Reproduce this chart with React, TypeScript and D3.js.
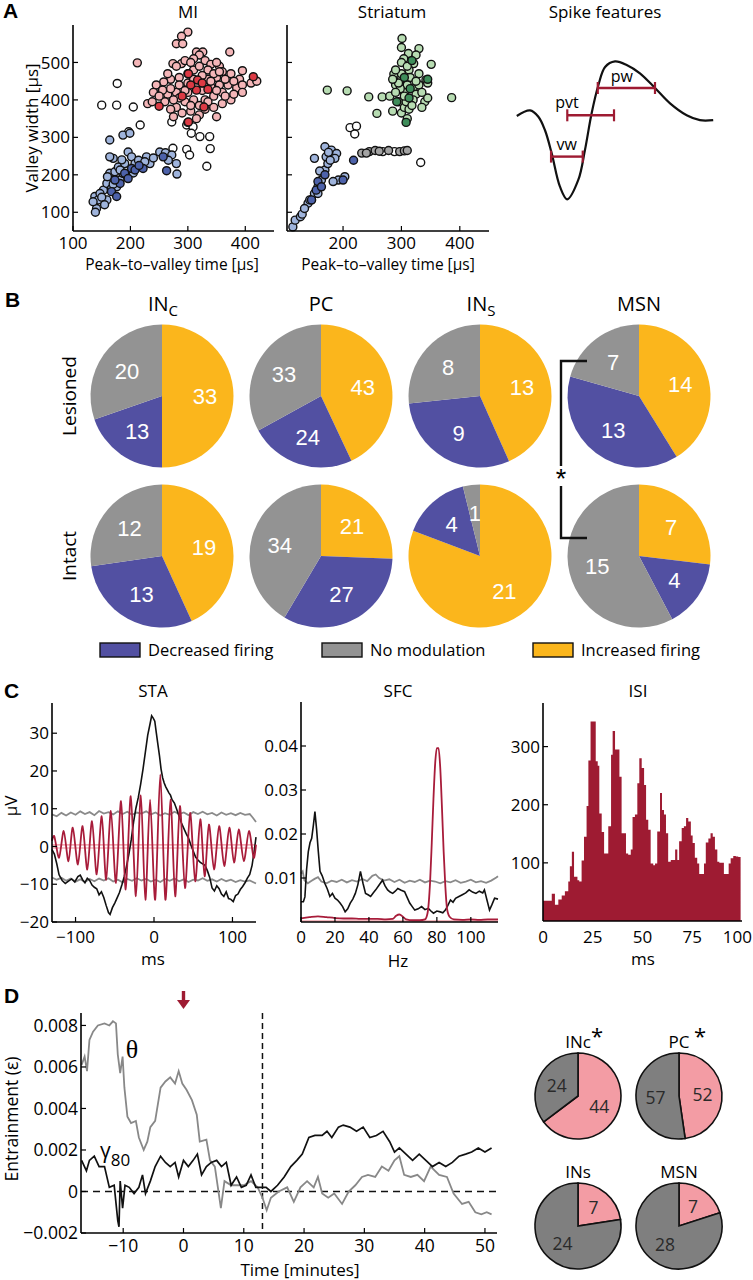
import React from "react";
import * as d3 from "d3";

const SANS = "'Open Sans', 'Noto Sans', 'DejaVu Sans', sans-serif";
const ARIAL = "'Liberation Sans', Arial, sans-serif";
const SERIF = "'Liberation Serif', 'DejaVu Serif', serif";

type P = [number, number];

// ================= Panel A data =================
const A_Y_TICKS = [100, 200, 300, 400, 500];
const MI_X_TICKS = [100, 200, 300, 400];
const ST_X_TICKS = [200, 300, 400];

const MI_NONE: P[] = [[177,444],[150,386],[176,386],[205,381],[217,333],[197,315],[272,341],[298,333],[309,328],[306,311],[321,302],[338,302],[339,270],[298,268],[274,271],[303,253],[333,223]];
const MI_BLUE_LIGHT: P[] = [[141,110],[138,142],[144,133],[153,159],[159,177],[164,204],[170,244],[173,208],[179,221],[182,186],[187,204],[190,230],[196,261],[202,248],[208,230],[214,239],[219,221],[228,248],[234,230],[159,133],[147,150],[167,163],[176,168],[182,213],[164,293],[187,306],[199,311],[164,248],[251,261],[261,259],[272,253],[280,230],[281,202],[266,239],[135,128],[139,100],[150,140],[160,195],[170,175],[185,240],[195,200],[205,205],[225,235],[240,245],[155,120]];
const MI_BLUE_DARK: P[] = [[167,155],[182,177],[190,204],[202,217],[208,213],[222,217],[263,211],[176,142],[196,190],[257,248],[173,186],[215,225]];
const MI_PINK: P[] = [[300,581],[289,570],[280,550],[291,550],[274,497],[289,497],[212,499],[373,528],[315,528],[326,528],[320,520],[310,510],[330,505],[340,495],[355,490],[360,475],[375,470],[395,478],[350,460],[335,455],[300,470],[285,460],[270,455],[258,448],[245,440],[255,425],[240,420],[265,415],[280,420],[300,445],[315,440],[325,425],[340,435],[355,440],[370,440],[385,432],[360,420],[345,410],[330,400],[310,400],[295,395],[280,380],[270,375],[290,365],[305,370],[320,360],[330,375],[345,380],[375,400],[410,445],[390,455],[420,450],[360,390],[230,390],[260,395],[300,340],[315,350],[285,405],[300,420],[238,395],[256,426],[310,480],[350,500],[265,470],[280,490],[295,505],[305,500],[320,490],[335,480],[345,470],[365,455],[380,450],[395,440],[350,425],[365,410],[380,415],[395,420],[270,430],[285,440],[295,425],[310,455],[325,465],[340,450],[355,475],[250,410],[275,400],[320,385],[335,395],[350,355],[275,355],[305,385]];
const MI_RED: P[] = [[317,453],[315,426],[301,470],[328,381],[301,341],[414,462],[250,383],[335,428],[305,440],[325,445],[290,410]];

const ST_NONE: P[] = [[212,326],[223,330],[220,309],[333,233],[268,262],[288,262]];
const ST_GRAY: P[] = [[232,258],[245,262],[255,265],[262,263],[278,265],[297,262],[305,264],[310,265],[240,258]];
const ST_BLUE_LIGHT: P[] = [[114,61],[118,79],[127,88],[130,95],[140,124],[146,133],[151,150],[157,168],[163,186],[169,213],[174,230],[171,248],[151,244],[169,275],[180,266],[189,257],[186,244],[178,239],[192,186],[203,195],[183,182],[143,133],[134,110],[157,150],[160,210],[175,260]];
const ST_BLUE_DARK: P[] = [[157,182],[154,159],[163,168],[200,186],[218,239],[146,133],[169,200]];
const ST_GREEN_LIGHT: P[] = [[301,564],[330,537],[312,524],[304,510],[321,497],[351,495],[287,469],[313,480],[342,453],[345,445],[173,426],[207,424],[244,408],[267,408],[386,406],[258,364],[285,370],[300,365],[305,380],[310,350],[295,395],[305,420],[320,430],[330,440],[290,440],[300,455],[315,460],[325,415],[340,395],[335,380],[300,470],[290,480],[320,400],[280,410],[310,440],[298,430],[330,470],[345,405],[290,420],[308,395],[313,375],[300,500],[310,490],[295,445],[325,450],[335,420],[305,410],[318,385],[285,455],[300,540],[325,520]];
const ST_GREEN_DARK: P[] = [[318,505],[345,455],[292,395],[313,405],[308,340],[315,430],[305,460]];

// Spike feature schematic (arbitrary time / amplitude units)
const SPIKE_WAVE: P[] = [[0.4,0.2],[7.1,0.28],[11.3,0.19],[14.6,0],[18,-0.33],[22.2,-0.81],[25.9,-0.99],[31.5,-0.71],[34.8,-0.29],[38.2,0.24],[41.6,0.64],[45,0.9],[50,0.98],[55.9,0.93],[62.6,0.81],[70.2,0.6],[77.8,0.38],[86.2,0.21],[92.9,0.14],[99.6,0.14]];
const SPIKE_FEATURES = [
  { name: "vw", t0: 17.7, t1: 33.7, v: -0.38, lt: 25.6, lv: -0.29 },
  { name: "pvt", t0: 25.9, t1: 49.5, v: 0.21, lt: 25.8, lv: 0.32 },
  { name: "pw", t0: 41.3, t1: 70.2, v: 0.6, lt: 53.5, lv: 0.69 },
];

// ================= Panel B data =================
const B_TYPES = [
  { main: "IN", sub: "C" },
  { main: "PC", sub: "" },
  { main: "IN", sub: "S" },
  { main: "MSN", sub: "" },
];
const B_CONDITIONS = ["Lesioned", "Intact"];
// order: increased, decreased, no modulation
const B_LESIONED = [[33, 13, 20], [43, 24, 33], [13, 9, 8], [14, 13, 7]];
const B_INTACT = [[19, 13, 12], [21, 27, 34], [21, 4, 1], [7, 4, 15]];
const B_LEGEND = ["Decreased firing", "No modulation", "Increased firing"];
const C_INC = "#fbb61c";
const C_DEC = "#5250a2";
const C_NONE = "#939393";

// ================= Panel C data =================
const STA_Y_TICKS = [-20, -10, 0, 10, 20, 30];
const STA_X_TICKS = [-100, 0, 100];
const STA_LFP: P[] = [[-130,-0.8],[-127,-2.0],[-124,-4.5],[-121,-7.5],[-117,-9.0],[-113,-9.8],[-109,-9.2],[-105,-8.6],[-101,-9.4],[-97,-8.0],[-94,-7.6],[-91,-8.8],[-88,-9.6],[-85,-8.4],[-82,-9.0],[-79,-10.2],[-76,-10.8],[-73,-11.2],[-70,-12.8],[-67,-12.0],[-64,-13.5],[-61,-15.6],[-58,-17.5],[-56,-18.0],[-53,-16.2],[-50,-15.0],[-47,-13.6],[-44,-12.2],[-41,-10.2],[-38,-8.0],[-35,-5.2],[-32,-2.0],[-29,1.8],[-26,6.5],[-23,10.2],[-20,13.0],[-17,16.5],[-14,20.5],[-11,25.0],[-8,29.5],[-5,32.5],[-3,34.6],[-1,34.0],[1,33.2],[3,30.0],[5,27.0],[7,24.0],[9,20.5],[11,18.2],[13,16.8],[15,15.8],[17,15.0],[19,14.2],[21,13.6],[23,12.4],[26,11.5],[29,9.8],[32,8.0],[35,6.2],[38,4.8],[41,3.4],[44,2.2],[47,0.4],[50,-1.2],[53,-2.8],[56,-3.6],[59,-4.2],[62,-4.6],[65,-5.0],[68,-6.4],[71,-8.2],[74,-11.0],[77,-11.8],[80,-10.4],[83,-11.2],[86,-12.6],[89,-13.2],[92,-12.0],[95,-13.8],[98,-14.0],[101,-14.6],[104,-13.0],[107,-12.6],[110,-11.4],[113,-10.6],[116,-9.6],[119,-8.4],[122,-7.4],[125,-5.0],[128,-0.8],[130,2.5]];
const STA_GAMMA: P[] = [[-130,1.5],[-127,2.7],[-121,-3.0],[-115,4.1],[-109,-3.9],[-103.5,5.0],[-97,-4.8],[-91,5.4],[-85,-6.1],[-79,6.7],[-73,-7.4],[-66.6,8.0],[-61,-8.8],[-54.9,9.4],[-48.5,-9.6],[-42,12.0],[-36,-11.4],[-29.6,13.3],[-23,-13.2],[-16.8,13.5],[-11,-14.1],[-5,12.4],[1.5,-14.1],[8,19.1],[14.5,-14.1],[21,12.4],[27,-13.2],[33,10.7],[39.5,-11.0],[46,8.9],[52.5,-9.2],[59,7.2],[64.5,-7.9],[70,5.8],[76.5,-6.1],[83,5.4],[89.5,-5.2],[96,5.0],[102,-4.3],[108,4.5],[114.5,-3.9],[121,4.1],[127,-3.0],[130,0.5]];
const STA_CI_UPPER: P[] = [[-130,8.5],[-124,8.0],[-118,8.9],[-112,8.2],[-106,9.0],[-100,8.4],[-94,9.3],[-88,8.6],[-82,9.1],[-76,8.3],[-70,9.4],[-64,8.7],[-58,9.1],[-52,8.5],[-46,9.3],[-40,8.6],[-34,9.2],[-28,8.4],[-22,9.0],[-16,8.7],[-10,9.3],[-4,8.5],[2,9.0],[8,8.2],[14,8.8],[20,8.4],[26,9.2],[32,8.6],[38,9.0],[44,8.3],[50,9.1],[56,8.6],[62,9.2],[68,8.5],[74,8.9],[80,8.2],[86,9.0],[92,8.4],[98,8.8],[104,8.3],[110,8.9],[116,8.4],[122,8.6],[126,7.6],[130,6.5]];
const STA_CI_LOWER: P[] = [[-130,-8.2],[-124,-8.8],[-118,-8.3],[-112,-9.1],[-106,-8.5],[-100,-9.3],[-94,-8.7],[-88,-9.4],[-82,-8.6],[-76,-9.2],[-70,-8.5],[-64,-9.0],[-58,-8.4],[-52,-9.3],[-46,-8.8],[-40,-9.5],[-34,-8.6],[-28,-9.1],[-22,-8.4],[-16,-9.0],[-10,-8.6],[-4,-9.3],[2,-8.8],[8,-9.4],[14,-8.6],[20,-9.1],[26,-8.5],[32,-9.2],[38,-8.7],[44,-9.4],[50,-8.8],[56,-9.0],[62,-8.4],[68,-9.1],[74,-8.7],[80,-9.3],[86,-8.6],[92,-9.2],[98,-8.8],[104,-9.4],[110,-8.9],[116,-9.3],[122,-9.0],[126,-9.4],[130,-9.8]];
const STA_SHUFFLE: P[][] = [[[-130,0.4],[130,0.4]], [[-130,-0.4],[130,-0.4]]];

const SFC_Y_TICKS = [0.01, 0.02, 0.03, 0.04];
const SFC_X_TICKS = [0, 20, 40, 60, 80, 100];
const SFC_LFP: P[] = [[0,0.0046],[1.4,0.0046],[2.3,0.0057],[3.3,0.012],[4.3,0.016],[5.3,0.018],[6.3,0.019],[7.3,0.022],[8.2,0.0251],[9.2,0.021],[10.2,0.016],[11.2,0.0115],[12.5,0.0105],[14,0.0088],[15.5,0.0075],[17,0.0058],[18.5,0.0065],[20,0.0054],[21.5,0.005],[23,0.0043],[24.5,0.0035],[26,0.0023],[27.5,0.003],[29,0.0043],[30.5,0.0052],[32,0.0065],[33.5,0.0085],[35,0.0115],[36.5,0.0088],[38,0.0065],[39.5,0.0062],[41,0.0058],[42.5,0.0066],[44,0.0073],[46,0.0084],[48,0.0095],[49.5,0.0082],[51,0.0073],[52.5,0.0068],[54,0.0065],[55.5,0.007],[57,0.0076],[59,0.0072],[61,0.0069],[62.5,0.0056],[64,0.0043],[65.5,0.0035],[67,0.0027],[69,0.003],[71,0.0035],[73,0.0028],[75,0.0031],[76.5,0.0025],[78,0.002],[80,0.0025],[82,0.0023],[83.5,0.0021],[85,0.0027],[86.5,0.0038],[88,0.005],[89.5,0.0045],[91,0.0054],[93,0.0058],[95,0.0062],[97,0.0066],[99,0.0073],[101,0.0068],[103,0.0065],[105,0.007],[107,0.0066],[108,0.0073],[109.5,0.005],[111,0.0027],[112.5,0.004],[114,0.0054],[116,0.0052]];
const SFC_CI: P[] = [[0,0.011],[1,0.0115],[2,0.0095],[4,0.0088],[6,0.0093],[8,0.0098],[10,0.0102],[12,0.0092],[15,0.0088],[18,0.0094],[21,0.0091],[24,0.0096],[27,0.009],[30,0.0095],[33,0.0092],[36,0.0098],[39,0.0093],[42,0.0105],[44,0.0108],[46,0.01],[49,0.0094],[52,0.0097],[55,0.0091],[58,0.0096],[61,0.0089],[64,0.0094],[67,0.0091],[70,0.0096],[73,0.009],[76,0.0094],[79,0.0092],[82,0.0088],[85,0.0093],[88,0.009],[91,0.0095],[94,0.0089],[97,0.0092],[100,0.0096],[103,0.009],[106,0.0093],[109,0.0089],[112,0.0094],[115,0.0101],[116,0.0104]];
const SFC_GAMMA: P[] = [[0,0.0008],[5,0.0011],[10,0.0013],[15,0.0011],[20,0.0009],[25,0.0008],[30,0.0008],[35,0.0007],[40,0.0007],[45,0.0007],[50,0.0006],[54,0.0007],[56,0.0014],[58,0.0017],[60,0.0012],[62,0.0006],[66,0.0004],[70,0.0004],[73,0.0006],[74.5,0.002],[76,0.009],[77,0.018],[78,0.028],[79,0.036],[80,0.0395],[81,0.0395],[82,0.035],[83,0.026],[84,0.016],[85,0.008],[86,0.003],[87.5,0.0012],[90,0.0006],[95,0.0005],[100,0.0006],[105,0.0005],[110,0.0006],[116,0.0006]];
const SFC_SHUFFLE: P[] = [[0,0.0002],[116,0.0002]];

const ISI_Y_TICKS = [100, 200, 300];
const ISI_X_TICKS = [0, 25, 50, 75, 100];
const ISI_MS = [0,3.0,4.4,6.0,7.7,9.4,11.0,12.7,13.5,14.5,15.6,17.3,18.2,19.4,20.6,21.9,22.8,23.9,25.3,26.5,27.5,28.3,29.5,30.7,31.6,32.8,34.2,35.0,36.2,37.3,38.4,39.5,40.7,41.7,42.8,44.1,45.0,46.2,47.4,48.4,49.6,50.8,51.8,52.9,54.1,55.4,56.3,57.4,58.8,59.8,60.8,61.8,62.9,64.2,65.2,66.4,67.5,68.4,69.7,70.8,71.9,73.0,74.3,75.2,76.3,77.5,78.5,79.8,80.9,81.8,83.1,84.2,85.3,86.4,87.6,88.6,89.8,90.9,92.2,93.3,94.3,95.6,96.9,98.1];
const ISI_COUNT = [35,35,47,28,37,44,51,68,94,119,76,70,68,104,145,198,276,343,343,275,267,185,153,116,116,163,286,327,295,295,248,151,151,116,114,123,179,183,237,280,263,234,174,157,99,96,99,154,220,191,183,151,102,105,105,123,105,137,160,163,177,171,147,134,109,99,81,81,99,135,142,151,145,123,102,100,100,81,81,99,108,112,111,110];
const ISI_LAST_EDGE_MS = 99.3;

// ================= Panel D data =================
const D_Y_TICKS = [-0.002, 0, 0.002, 0.004, 0.006, 0.008];
const D_X_TICKS = [-10, 0, 10, 20, 30, 40, 50];
const D_LESION_TIME = 13.1;
const D_STIM_TIME = 0;
const THETA: P[] = [[-16.9,0.0061],[-16.4,0.0065],[-16,0.0058],[-15.6,0.0073],[-15,0.0077],[-14.2,0.008],[-13.1,0.0081],[-12.3,0.008],[-11.7,0.0082],[-11.2,0.0081],[-10.9,0.0066],[-10.5,0.0057],[-10.1,0.0065],[-9.8,0.005],[-9.3,0.0036],[-8.7,0.0033],[-7.9,0.0034],[-7.4,0.0026],[-6.6,0.002],[-6,0.0024],[-5.5,0.0031],[-4.7,0.0034],[-3.8,0.005],[-3,0.0053],[-2.2,0.0055],[-1.4,0.0052],[-0.8,0.0058],[-0.2,0.0052],[0.5,0.0049],[1.4,0.0044],[2.2,0.0037],[2.7,0.0024],[3.8,0.0025],[4.4,0.0015],[5.2,0.0012],[6.2,-0.0008],[6.8,0.0005],[7.9,0.0003],[9,0.0003],[10,0.0003],[11.2,0.0005],[12.3,0.0002],[13.1,-0.0003],[13.8,-0.0009],[14.5,-0.0003],[15.8,0.0],[17.2,0.0002],[18.3,-0.0005],[19.4,0.0002],[20.5,0.0005],[21.6,0.0002],[22.3,0.0007],[23,-0.0001],[24,-0.0003],[25,-0.0001],[26.3,-0.0006],[27.4,0.0],[28.5,0.0003],[29.6,0.0007],[30.6,0.0008],[31.8,0.0007],[32.9,0.0012],[34,0.001],[35,0.0015],[35.8,0.0017],[36.6,0.0008],[37.7,0.0007],[38.8,0.0008],[39.9,0.0005],[41,0.0012],[42.4,0.0008],[43.7,0.0007],[44.8,-0.0001],[46.2,-0.0006],[47.3,-0.0005],[48.4,-0.001],[49.4,-0.0011],[50.3,-0.001],[51.1,-0.0011]];
const GAMMA80: P[] = [[-16.9,0.0015],[-16.1,0.001],[-15.6,0.0015],[-14.8,0.0017],[-14,0.0012],[-13.1,0.0012],[-12.3,0.0002],[-11.5,0.0003],[-10.9,-0.0014],[-10.7,-0.0017],[-10.5,0.0005],[-10.1,-0.0008],[-9.7,0.0003],[-9,0.0002],[-8.2,-0.0001],[-7.4,0.0002],[-6.8,0.0008],[-6.3,-0.0001],[-5.5,0.0005],[-4.7,0.0012],[-3.8,0.0017],[-3,0.0014],[-2.2,0.0012],[-1.4,0.0014],[-0.8,0.0007],[0,0.0015],[0.8,0.0012],[1.6,0.0015],[2.3,0.0018],[3,0.0008],[3.8,0.0012],[4.6,0.0014],[5.5,0.0015],[6.3,0.0012],[7.1,0.0014],[7.9,0.0003],[8.8,0.0007],[9.6,0.0002],[10.4,0.0003],[11.2,0.0008],[12,0.0002],[12.9,0.0002],[13.7,0.0002],[14.5,0.0],[15.6,0.0003],[16.7,0.0007],[17.8,0.0012],[18.8,0.0015],[19.7,0.0018],[20.8,0.0026],[21.8,0.0027],[23,0.0027],[23.8,0.0029],[24.6,0.0026],[25.7,0.0031],[26.5,0.0032],[27.6,0.0031],[28.7,0.0029],[29.8,0.0031],[30.9,0.0026],[32,0.0027],[33.1,0.0029],[34.2,0.0024],[35,0.0019],[35.8,0.0021],[36.9,0.0018],[38,0.0015],[39.1,0.0018],[40.2,0.0015],[41.3,0.0012],[42.4,0.0014],[43.5,0.0012],[44.6,0.0014],[45.7,0.0017],[46.8,0.0018],[47.8,0.0019],[48.9,0.0021],[50,0.0019],[51.1,0.0021]];
const D_PIE_NAMES = ["INc", "PC", "INs", "MSN"];
const D_PIE_SIG = [true, true, false, false];
const D_PIE_ENTRAINED = [44, 52, 7, 7];
const D_PIE_NOT = [24, 57, 24, 28];
const C_PINK = "#f39ca4";
const C_DGRAY = "#7f7f7f";
const C_CRIMSON = "#9e1b32";

// ================= helpers =================
const minus = (v: number, dec = 0) => (v < 0 ? "\u2212" : "") + Math.abs(v).toFixed(dec);

function YAxis({ scale, x, ticks, fmt, fs = 17, labels = true, tl = 5 }: any) {
  const [r0, r1] = scale.range();
  return (
    <g>
      <line x1={x} x2={x} y1={r0} y2={r1} stroke="#000" strokeWidth={1.6} />
      {ticks.map((t: number) => (
        <g key={t}>
          <line x1={x} x2={x + tl} y1={scale(t)} y2={scale(t)} stroke="#000" strokeWidth={1.2} />
          {labels && (
            <text x={x - 3} y={scale(t)} dy="0.36em" textAnchor="end" fontSize={fs} fontFamily={SANS}>
              {fmt(t)}
            </text>
          )}
        </g>
      ))}
    </g>
  );
}

function XAxis({ scale, y, ticks, fmt, fs = 17, labels = true, tl = 5, ldy = 19, maxX = 10000 }: any) {
  const [r0, r1] = scale.range();
  return (
    <g>
      <line x1={r0} x2={r1} y1={y} y2={y} stroke="#000" strokeWidth={1.6} />
      {ticks.map((t: number) => {
        const px = scale(t);
        const clampEnd = px + 14 > maxX;
        return (
          <g key={t}>
            <line x1={px} x2={px} y1={y} y2={y - tl} stroke="#000" strokeWidth={1.2} />
            {labels && (
              <text
                x={clampEnd ? maxX : px}
                y={y + ldy}
                textAnchor={clampEnd ? "end" : "middle"}
                fontSize={fs}
                fontFamily={SANS}
              >
                {fmt(t)}
              </text>
            )}
          </g>
        );
      })}
    </g>
  );
}

function Letter({ x, y, c }: { x: number; y: number; c: string }) {
  return (
    <text x={x} y={y} fontSize={21} fontWeight="bold" fontFamily={ARIAL}>
      {c}
    </text>
  );
}

// ================= Panel A =================
function PanelA() {
  const miX = d3.scaleLinear().domain([100, 450]).range([73, 274]);
  const stX = d3.scaleLinear().domain([104, 450]).range([287, 489]);
  const aY = d3.scaleLinear().domain([50, 600]).range([231, 25]);
  const dots = (pts: P[], sx: any, fill: string, key: string) =>
    pts.map((p, i) => (
      <circle key={key + i} cx={sx(p[0])} cy={aY(p[1])} r={4} fill={fill} stroke="#111" strokeWidth={1.4} />
    ));
  const spX = d3.scaleLinear().domain([0, 100]).range([516, 714]);
  const spY = d3.scaleLinear().domain([-1, 1]).range([200, 60]);
  const spLine = d3.line<P>().x((d) => spX(d[0])).y((d) => spY(d[1])).curve(d3.curveCatmullRom);
  return (
    <g>
      <Letter x={3} y={18} c="A" />
      <text x={188} y={18} textAnchor="middle" fontSize={17}>MI</text>
      <text x={392} y={18} textAnchor="middle" fontSize={17}>Striatum</text>
      <text x={605} y={18} textAnchor="middle" fontSize={17}>Spike features</text>
      {dots(MI_NONE, miX, "#ffffff", "mn")}
      {dots(MI_BLUE_LIGHT, miX, "#9fb4dc", "mbl")}
      {dots(MI_BLUE_DARK, miX, "#4d62aa", "mbd")}
      {dots(MI_PINK, miX, "#f4b6b8", "mp")}
      {dots(MI_RED, miX, "#dc3a44", "mr")}
      {dots(ST_NONE, stX, "#ffffff", "sn")}
      {dots(ST_GRAY, stX, "#a3a3a3", "sg")}
      {dots(ST_BLUE_LIGHT, stX, "#9fb4dc", "sbl")}
      {dots(ST_BLUE_DARK, stX, "#4d62aa", "sbd")}
      {dots(ST_GREEN_LIGHT, stX, "#b7dcb2", "sgl")}
      {dots(ST_GREEN_DARK, stX, "#3e8d5a", "sgd")}
      <YAxis scale={aY} x={73} ticks={A_Y_TICKS} fmt={(d: number) => String(d)} />
      <YAxis scale={aY} x={287} ticks={A_Y_TICKS} fmt={(d: number) => String(d)} labels={false} />
      <XAxis scale={miX} y={231} ticks={MI_X_TICKS} fmt={(d: number) => String(d)} ldy={18} />
      <XAxis scale={stX} y={231} ticks={ST_X_TICKS} fmt={(d: number) => String(d)} ldy={18} />
      <text x={172} y={270} textAnchor="middle" fontSize={15.5}>Peak–to–valley time [µs]</text>
      <text x={388} y={270} textAnchor="middle" fontSize={15.5}>Peak–to–valley time [µs]</text>
      <text transform="translate(38,128) rotate(-90)" textAnchor="middle" fontSize={17}>Valley width [µs]</text>
      {/* spike schematic */}
      <path d={spLine(SPIKE_WAVE) || ""} fill="none" stroke="#111" strokeWidth={2.2} />
      {SPIKE_FEATURES.map((f) => (
        <g key={f.name}>
          <line x1={spX(f.t0)} x2={spX(f.t1)} y1={spY(f.v)} y2={spY(f.v)} stroke={C_CRIMSON} strokeWidth={2.4} />
          <line x1={spX(f.t0)} x2={spX(f.t0)} y1={spY(f.v) - 6} y2={spY(f.v) + 6} stroke={C_CRIMSON} strokeWidth={2.2} />
          <line x1={spX(f.t1)} x2={spX(f.t1)} y1={spY(f.v) - 6} y2={spY(f.v) + 6} stroke={C_CRIMSON} strokeWidth={2.2} />
          <text x={spX(f.lt)} y={spY(f.lv)} textAnchor="middle" fontSize={16}>{f.name}</text>
        </g>
      ))}
    </g>
  );
}

// ================= Panel B =================
function PanelB() {
  const R = 71.5;
  const cx = d3.scalePoint<number>().domain([0, 1, 2, 3]).range([162, 639]);
  const cy = d3.scalePoint<number>().domain([0, 1]).range([396, 556]);
  const pie = d3.pie<number>().sort(null).value((d) => d);
  const arc = d3.arc<d3.PieArcDatum<number>>().innerRadius(0).outerRadius(R);
  const lab = d3.arc<d3.PieArcDatum<number>>().innerRadius(R * 0.6).outerRadius(R * 0.6);
  const cols = [C_INC, C_DEC, C_NONE];
  const rows = [B_LESIONED, B_INTACT];
  const legendCols = [C_DEC, C_NONE, C_INC];
  const legendX = [100, 322, 533];
  const bx = 561;
  const mid = (cy(0)! + cy(1)!) / 2;
  return (
    <g>
      <Letter x={5} y={307} c="B" />
      {B_TYPES.map((t, i) => (
        <text key={i} x={cx(i)! + (t.sub ? 1 : 0)} y={311} textAnchor="middle" fontSize={20}>
          {t.main}
          {t.sub && <tspan fontSize={15} dy={5}>{t.sub}</tspan>}
        </text>
      ))}
      {B_CONDITIONS.map((c, r) => (
        <text key={c} transform={`translate(76,${cy(r)}) rotate(-90)`} textAnchor="middle" fontSize={19}>
          {c}
        </text>
      ))}
      {rows.map((row, r) =>
        row.map((vals, i) => (
          <g key={`${r}-${i}`} transform={`translate(${cx(i)},${cy(r)})`}>
            {pie(vals).map((a, k) => (
              <path key={k} d={arc(a) || ""} fill={cols[k]} />
            ))}
            {pie(vals).map((a, k) => {
              const [lx, ly] = lab.centroid(a);
              return (
                <text key={"t" + k} x={lx} y={ly} dy="0.36em" textAnchor="middle" fill="#fff" fontSize={22} fontFamily={ARIAL}>
                  {vals[k]}
                </text>
              );
            })}
          </g>
        ))
      )}
      {/* significance bracket */}
      <path
        d={`M${bx + 26},${cy(0)! - 35} H${bx} V${mid - 10} M${bx},${mid + 10} V${cy(1)! - 18} H${bx + 26}`}
        fill="none"
        stroke="#111"
        strokeWidth={2.4}
      />
      <text x={bx} y={mid + 12} textAnchor="middle" fontSize={27} fontFamily={ARIAL}>*</text>
      {B_LEGEND.map((l, i) => (
        <g key={l}>
          <rect x={legendX[i]} y={643} width={40} height={14} fill={legendCols[i]} stroke="#111" strokeWidth={1.4} />
          <text x={legendX[i] + 48} y={656} fontSize={16.5}>{l}</text>
        </g>
      ))}
    </g>
  );
}

// ================= Panel C =================
function PanelC() {
  const staX = d3.scaleLinear().domain([-130, 130]).range([52, 256]);
  const staY = d3.scaleLinear().domain([-20, 38]).range([922, 703]);
  const sl = d3.line<P>().x((d) => staX(d[0])).y((d) => staY(d[1]));
  const slc = d3.line<P>().x((d) => staX(d[0])).y((d) => staY(d[1])).curve(d3.curveCardinal.tension(0.2));

  const sfcX = d3.scaleLinear().domain([0, 116]).range([301, 498]);
  const sfcY = d3.scaleLinear().domain([0, 0.05]).range([922, 702]);
  const fl = d3.line<P>().x((d) => sfcX(d[0])).y((d) => sfcY(d[1]));
  const flm = d3.line<P>().x((d) => sfcX(d[0])).y((d) => sfcY(d[1])).curve(d3.curveMonotoneX);

  const isiX = d3.scaleLinear().domain([0, 100]).range([543, 742]);
  const isiY = d3.scaleLinear().domain([0, 375]).range([921, 703]);
  const isiPts: P[] = ISI_MS.map((m, i) => [m, ISI_COUNT[i]]);
  const isiArea = d3
    .area<P>()
    .x((d) => isiX(d[0]))
    .y0(isiY(0))
    .y1((d) => isiY(d[1]))
    .curve(d3.curveStepAfter);
  const isiEnd: P = [ISI_LAST_EDGE_MS, ISI_COUNT[ISI_COUNT.length - 1]];

  return (
    <g>
      <Letter x={4} y={698} c="C" />
      <text x={153} y={697} textAnchor="middle" fontSize={17}>STA</text>
      <text x={398} y={697} textAnchor="middle" fontSize={17}>SFC</text>
      <text x={638} y={697} textAnchor="middle" fontSize={17}>ISI</text>
      {/* STA */}
      {STA_SHUFFLE.map((s, i) => (
        <path key={i} d={sl(s) || ""} fill="none" stroke="#f08c98" strokeWidth={1.2} />
      ))}
      <path d={sl(STA_CI_UPPER) || ""} fill="none" stroke="#8a8a8a" strokeWidth={1.8} />
      <path d={sl(STA_CI_LOWER) || ""} fill="none" stroke="#8a8a8a" strokeWidth={1.8} />
      <path d={sl(STA_LFP) || ""} fill="none" stroke="#111" strokeWidth={1.6} />
      <path d={slc(STA_GAMMA) || ""} fill="none" stroke="#a81c3a" strokeWidth={1.8} />
      <YAxis scale={staY} x={52} ticks={STA_Y_TICKS} fmt={(d: number) => minus(d)} />
      <XAxis scale={staX} y={922} ticks={STA_X_TICKS} fmt={(d: number) => minus(d)} ldy={21} />
      <text transform="translate(17,806) rotate(-90)" textAnchor="middle" fontSize={17}>µV</text>
      <text x={153} y={965} textAnchor="middle" fontSize={17}>ms</text>
      {/* SFC */}
      <path d={fl(SFC_SHUFFLE) || ""} fill="none" stroke="#f0a0a8" strokeWidth={1.5} />
      <path d={fl(SFC_CI) || ""} fill="none" stroke="#8a8a8a" strokeWidth={1.8} />
      <path d={fl(SFC_LFP) || ""} fill="none" stroke="#111" strokeWidth={1.6} />
      <path d={flm(SFC_GAMMA) || ""} fill="none" stroke="#a81c3a" strokeWidth={1.8} />
      <YAxis scale={sfcY} x={301} ticks={SFC_Y_TICKS} fmt={(d: number) => d.toFixed(2)} />
      <XAxis scale={sfcX} y={922} ticks={SFC_X_TICKS} fmt={(d: number) => String(d)} ldy={21} />
      <text x={398} y={967} textAnchor="middle" fontSize={17}>Hz</text>
      {/* ISI */}
      <path d={isiArea([...isiPts, isiEnd]) || ""} fill={C_CRIMSON} />
      <YAxis scale={isiY} x={543} ticks={ISI_Y_TICKS} fmt={(d: number) => String(d)} />
      <XAxis scale={isiX} y={921} ticks={ISI_X_TICKS} fmt={(d: number) => String(d)} ldy={22} tl={0} maxX={752} />
      <text x={643} y={965} textAnchor="middle" fontSize={17}>ms</text>
    </g>
  );
}

// ================= Panel D =================
function PanelD() {
  const dX = d3.scaleLinear().domain([-17, 52]).range([81, 497]);
  const dY = d3.scaleLinear().domain([-0.002, 0.0086]).range([1233, 1013]);
  const ln = d3.line<P>().x((d) => dX(d[0])).y((d) => dY(d[1]));
  const fmtY = (d: number) => (Math.abs(d) < 1e-9 ? "0" : minus(d, 3));
  const R = 43;
  const pcx = d3.scalePoint<number>().domain([0, 1]).range([578, 679]);
  const pcy = d3.scalePoint<number>().domain([0, 1]).range([1096, 1226]);
  const pie = d3.pie<number>().sort(null).value((d) => d);
  const arc = d3.arc<d3.PieArcDatum<number>>().innerRadius(0).outerRadius(R);
  const lab = d3.arc<d3.PieArcDatum<number>>().innerRadius(R * 0.55).outerRadius(R * 0.55);
  const ax = dX(D_STIM_TIME);
  return (
    <g>
      <Letter x={4} y={1003} c="D" />
      {/* arrow */}
      <line x1={ax} x2={ax} y1={991} y2={1001} stroke={C_CRIMSON} strokeWidth={3.4} />
      <path d={`M${ax - 6.5},${1000} L${ax + 6.5},${1000} L${ax},${1009} Z`} fill={C_CRIMSON} />
      <line x1={dX(-17)} x2={dX(52)} y1={dY(0)} y2={dY(0)} stroke="#111" strokeWidth={1.5} strokeDasharray="7,5" />
      <line x1={dX(D_LESION_TIME)} x2={dX(D_LESION_TIME)} y1={dY(0.0086)} y2={dY(-0.002)} stroke="#111" strokeWidth={1.5} strokeDasharray="6,4" />
      <path d={ln(THETA) || ""} fill="none" stroke="#888" strokeWidth={1.8} />
      <path d={ln(GAMMA80) || ""} fill="none" stroke="#111" strokeWidth={1.7} />
      <YAxis scale={dY} x={81} ticks={D_Y_TICKS} fmt={fmtY} fs={17.5} />
      <XAxis scale={dX} y={1233} ticks={D_X_TICKS} fmt={(d: number) => minus(d)} fs={17.5} ldy={19} />
      <text x={300} y={1276} textAnchor="middle" fontSize={17}>Time [minutes]</text>
      <text transform="translate(18,1119) rotate(-90)" textAnchor="middle" fontSize={17.5}>Entrainment (ε)</text>
      <text x={132} y={1058} textAnchor="middle" fontSize={26} fontFamily={SERIF}>θ</text>
      <text x={100} y={1158} fontSize={21} fontFamily={SANS}>
        γ<tspan fontSize={17} dy={8}>80</tspan>
      </text>
      {D_PIE_NAMES.map((name, i) => {
        const col = i % 2;
        const row = Math.floor(i / 2);
        const vals = [D_PIE_ENTRAINED[i], D_PIE_NOT[i]];
        const cxx = pcx(col)!;
        const cyy = pcy(row)!;
        return (
          <g key={name}>
            <text x={cxx} y={cyy - 48} textAnchor="middle" fontSize={17}>{name}</text>
            {D_PIE_SIG[i] && (
              <text x={cxx + (name === "PC" ? 21 : 19)} y={cyy - 52} textAnchor="middle" fontSize={22}>*</text>
            )}
            <g transform={`translate(${cxx},${cyy})`}>
              {pie(vals).map((a, k) => (
                <path key={k} d={arc(a) || ""} fill={k === 0 ? C_PINK : C_DGRAY} stroke="#111" strokeWidth={1.6} />
              ))}
              {pie(vals).map((a, k) => {
                const [lx, ly] = lab.centroid(a);
                return (
                  <text key={"t" + k} x={lx} y={ly} dy="0.36em" textAnchor="middle" fontSize={17.5} fill="#2a2a2a">
                    {vals[k]}
                  </text>
                );
              })}
            </g>
          </g>
        );
      })}
    </g>
  );
}

export default function App() {
  return (
    <svg
      width={753}
      height={1280}
      viewBox="0 0 753 1280"
      style={{ position: "absolute", left: 0, top: 0, background: "#fff" }}
      fontFamily={SANS}
    >
      <rect width={753} height={1280} fill="#fff" />
      <PanelA />
      <PanelB />
      <PanelC />
      <PanelD />
    </svg>
  );
}
